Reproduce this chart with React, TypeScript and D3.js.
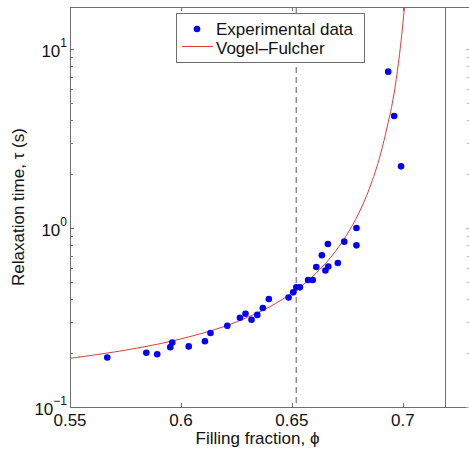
import { useEffect, useRef } from 'react'
import * as d3 from 'd3'

// measured points (filling fraction, relaxation time in s)
const phiData = [
  0.5668, 0.5844, 0.5893, 0.5952, 0.5961, 0.6035, 0.6108, 0.6133, 0.6209, 0.6266, 0.6291,
  0.6318, 0.6344, 0.6369, 0.6396, 0.6485, 0.6506, 0.652, 0.6536, 0.6573, 0.6594, 0.661,
  0.6635, 0.6651, 0.6662, 0.6664, 0.6707, 0.6736, 0.6791, 0.6791, 0.6934, 0.6961, 0.6992,
]
const tauData = [
  0.189, 0.201, 0.197, 0.216, 0.229, 0.218, 0.233, 0.259, 0.284, 0.315, 0.332,
  0.307, 0.327, 0.357, 0.401, 0.409, 0.437, 0.466, 0.466, 0.512, 0.512, 0.606,
  0.704, 0.579, 0.814, 0.609, 0.637, 0.839, 1.0, 0.80, 7.47, 4.22, 2.21,
]

// Vogel-Fulcher fit
const phiFit = [0.55, 0.57, 0.59, 0.61, 0.62, 0.63, 0.64, 0.65, 0.66, 0.67, 0.675, 0.68, 0.685, 0.69, 0.693, 0.696, 0.698, 0.699, 0.7, 0.701, 0.702]
const tauFit = [0.187, 0.203, 0.225, 0.259, 0.283, 0.317, 0.363, 0.433, 0.545, 0.751, 0.927, 1.2, 1.67, 2.6, 3.7, 5.6, 8.3, 10.5, 13.8, 18.5, 25]

const xTicks = [0.55, 0.6, 0.65, 0.7]
const xTickLabels = ['0.55', '0.6', '0.65', '0.7']
const yMajor = [0.1, 1, 10]
const yExp = ['\u22121', '0', '1']
const glassLine = 0.652

export default function App() {
  const svgRef = useRef<SVGSVGElement>(null)

  useEffect(() => {
    document.body.style.margin = '0'
    const W = 469, H = 449
    const L = 70, R = 445, T = 7, B = 407
    const font = '"Liberation Sans", Arial, Helvetica, sans-serif'
    const axisC = '#6e6e6e'

    const x = d3.scaleLinear().domain([0.55, 0.719]).range([L, R])
    const y = d3.scaleLog().domain([0.1, Math.pow(10, 1.2346)]).range([B, T])

    const svg = d3.select(svgRef.current)
    svg.selectAll('*').remove()
    svg.attr('width', W).attr('height', H).style('background', '#fff').style('display', 'block')

    svg.append('defs').append('clipPath').attr('id', 'plotclip')
      .append('rect').attr('x', L).attr('y', T).attr('width', R - L).attr('height', B - T)

    // dashed marker
    svg.append('line').attr('x1', x(glassLine)).attr('x2', x(glassLine)).attr('y1', T).attr('y2', B)
      .attr('stroke', '#8c8c8c').attr('stroke-width', 1.5).attr('stroke-dasharray', '6,4')

    // fit curve
    const line = d3.line<number>().x((_, i) => x(phiFit[i])).y((_, i) => y(tauFit[i])).curve(d3.curveMonotoneX)
    svg.append('path').datum(phiFit).attr('d', line).attr('fill', 'none')
      .attr('stroke', '#e03a3a').attr('stroke-width', 1).attr('clip-path', 'url(#plotclip)')

    // points
    svg.append('g').selectAll('circle').data(phiData).join('circle')
      .attr('cx', d => x(d)).attr('cy', (_, i) => y(tauData[i])).attr('r', 3.3).attr('fill', '#0000f5')

    // frame
    const g = svg.append('g').attr('stroke', axisC).attr('stroke-width', 1).attr('fill', 'none')
    g.append('line').attr('x1', L).attr('x2', W).attr('y1', T + 0.5).attr('y2', T + 0.5)
    g.append('line').attr('x1', L).attr('x2', W).attr('y1', B + 0.5).attr('y2', B + 0.5)
    g.append('line').attr('x1', L + 0.5).attr('x2', L + 0.5).attr('y1', T).attr('y2', B)
    g.append('line').attr('x1', R + 0.5).attr('x2', R + 0.5).attr('y1', T).attr('y2', B)

    // x ticks, bottom and top
    xTicks.forEach(v => {
      const px = Math.round(x(v)) + 0.5
      g.append('line').attr('x1', px).attr('x2', px).attr('y1', B).attr('y2', B - 4)
      g.append('line').attr('x1', px).attr('x2', px).attr('y1', T).attr('y2', T + 4)
    })

    // y ticks: left axis and right neighbour axis
    const minor: number[] = []
    ;[0.1, 1].forEach(d => { for (let k = 2; k <= 9; k++) minor.push(d * k) })
    minor.push(20)
    minor.filter(v => y(v) >= T).forEach(v => {
      const py = Math.round(y(v)) + 0.5
      g.append('line').attr('x1', L).attr('x2', L + 3).attr('y1', py).attr('y2', py)
      g.append('line').attr('x1', W).attr('x2', W - 2).attr('y1', py).attr('y2', py).attr('stroke', '#b5b5b5')
    })
    yMajor.forEach(v => {
      const py = Math.round(y(v)) + 0.5
      g.append('line').attr('x1', L).attr('x2', L + 4).attr('y1', py).attr('y2', py)
      g.append('line').attr('x1', W).attr('x2', W - 3).attr('y1', py).attr('y2', py).attr('stroke', '#b5b5b5')
    })

    // tick labels
    xTicks.forEach((v, i) => {
      svg.append('text').attr('x', x(v)).attr('y', 426).attr('text-anchor', 'middle')
        .attr('font-family', font).attr('font-size', 17).attr('fill', '#111').text(xTickLabels[i])
    })
    yMajor.forEach((v, i) => {
      const t = svg.append('text').attr('x', 67).attr('y', y(v) + 8).attr('text-anchor', 'end')
        .attr('font-family', font).attr('font-size', 17).attr('fill', '#111')
      t.append('tspan').text('10')
      t.append('tspan').attr('dy', -10).attr('font-size', 12).text(yExp[i])
    })

    // axis titles
    svg.append('text').attr('x', (L + R) / 2).attr('y', 444).attr('text-anchor', 'middle')
      .attr('font-family', font).attr('font-size', 17).attr('fill', '#111').text('Filling fraction, \u03d5')
    svg.append('text').attr('transform', `translate(24,${(T + B) / 2}) rotate(-90)`).attr('text-anchor', 'middle')
      .attr('font-family', font).attr('font-size', 17).attr('fill', '#111').text('Relaxation time, \u03c4 (s)')

    // legend
    const lg = svg.append('g')
    lg.append('rect').attr('x', 176.5).attr('y', 13.5).attr('width', 188).attr('height', 49)
      .attr('fill', '#fff').attr('stroke', axisC)
    lg.append('circle').attr('cx', 197).attr('cy', 29).attr('r', 3.3).attr('fill', '#0000f5')
    lg.append('line').attr('x1', 182).attr('x2', 213).attr('y1', 46.5).attr('y2', 46.5)
      .attr('stroke', '#e03a3a').attr('stroke-width', 1)
    lg.append('text').attr('x', 216).attr('y', 35).attr('font-family', font).attr('font-size', 17)
      .attr('fill', '#111').text('Experimental data')
    lg.append('text').attr('x', 216).attr('y', 54).attr('font-family', font).attr('font-size', 17)
      .attr('fill', '#111').text('Vogel\u2013Fulcher')
  }, [])

  return <svg ref={svgRef} />
}
